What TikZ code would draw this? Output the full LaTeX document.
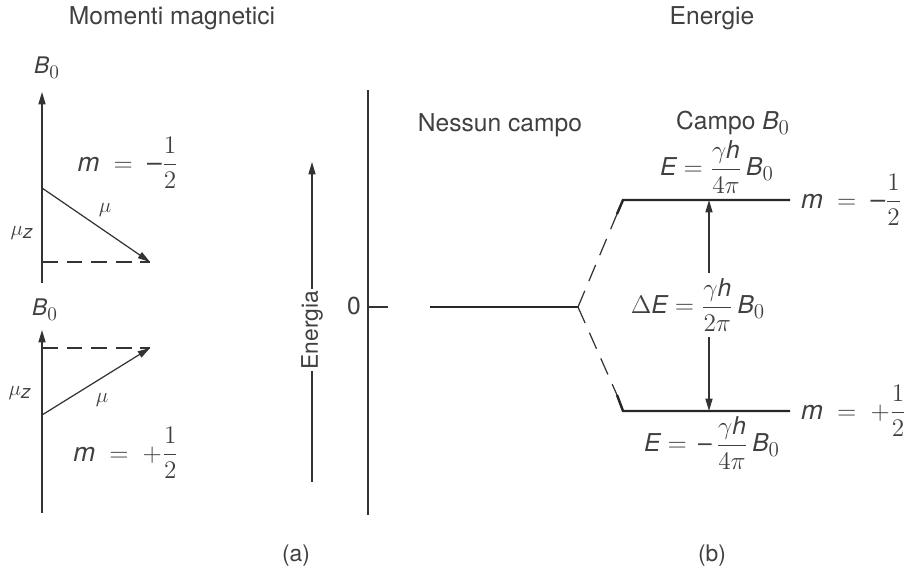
\documentclass[tikz,border=0pt]{standalone}
\usepackage{amsmath}
\usepackage{fontspec}
\setmainfont{TeX Gyre Heros}
\usepackage[italic]{mathastext}
\usetikzlibrary{arrows.meta}

\begin{document}
\begin{tikzpicture}[
		x=0.02cm,
		y=-0.02cm,
		every node/.style={text=black!75, font=\fontsize{13}{15}\selectfont},
		title/.style={font=\fontsize{14}{16}\selectfont},
		mlab/.style={font=\fontsize{15}{17}\selectfont},
		elab/.style={font=\fontsize{14}{16}\selectfont},
		axis/.style={draw=black!80, line width=0.7pt},
		vec/.style={axis, -{Triangle[length=7pt,width=4pt]}},
		proj/.style={draw=black!80, line width=0.7pt, dash pattern=on 9pt off 5pt},
		level/.style={draw=black!85, line width=1.4pt, line join=miter},
		split/.style={draw=black!80, line width=0.7pt, dash pattern=on 10pt off 6pt}
	]
	\useasboundingbox (0,0) rectangle (916,580);

	% Titles
	\node[title] (tmom) at (172,18) {Momenti magnetici};
	\node[title] (tene) at (712,18) {Energie};

	% Upper moment, m = -1/2
	\coordinate (axA-bot) at (42,283);
	\coordinate (axA-top) at (42,92);
	\coordinate (muA-o) at (42,188);
	\coordinate (muA-z) at (42,262);
	\coordinate (muA-tip) at (150,262);
	\draw[vec] (axA-bot) -- (axA-top);
	\draw[proj] (muA-z) -- (muA-tip);
	\draw[vec] (muA-o) -- (muA-tip);
	\node (B0a) at (47,68) {$B_0$};
	\node (muA) at (105,210) {$\mu$};
	\node (muzA) at (22,233) {$\mu_z$};
	\node[mlab] (mA) at (128,163) {$m\;=\;-\displaystyle\frac{1}{2}$};

	% Lower moment, m = +1/2
	\coordinate (axB-bot) at (42,513);
	\coordinate (axB-top) at (42,330);
	\coordinate (muB-o) at (42,415);
	\coordinate (muB-z) at (42,348);
	\coordinate (muB-tip) at (150,348);
	\draw[vec] (axB-bot) -- (axB-top);
	\draw[proj] (muB-z) -- (muB-tip);
	\draw[vec] (muB-o) -- (muB-tip);
	\node (B0b) at (45,310) {$B_0$};
	\node (muB) at (102,400) {$\mu$};
	\node (muzB) at (20,393) {$\mu_z$};
	\node[mlab] (mB) at (126,453) {$m\;=\;+\displaystyle\frac{1}{2}$};

	% Energy axis
	\coordinate (en-bot) at (312,482);
	\coordinate (en-top) at (312,162);
	\node[rotate=90, fill=white, inner sep=1pt] (energia) at (312,330) {Energia};
	\draw[axis] (en-bot) -- (energia.west);
	\draw[vec] (energia.east) -- (en-top);

	% Zero line
	\coordinate (ax0-top) at (368,90);
	\coordinate (ax0-bot) at (368,515);
	\coordinate (tick-a) at (368,307);
	\coordinate (tick-b) at (388,307);
	\draw[axis] (ax0-top) -- (ax0-bot);
	\draw[axis] (tick-a) -- (tick-b);
	\node[title] (zero) at (354,306) {0};
	\node[title] (nocampo) at (500,125) {Nessun campo};

	% Levels
	\coordinate (lvl0) at (430,307);
	\coordinate (split) at (578,307);
	\draw[level] (lvl0) -- (split);
	\foreach \nm/\y/\ky/\sg in {up/200/214/-, lo/411/395/+} {
			\coordinate (\nm-knee) at (617,\ky);
			\coordinate (\nm-corner) at (623,\y);
			\coordinate (\nm-end) at (790,\y);
			\draw[split] (split) -- (\nm-knee);
			\draw[level] (\nm-knee) -- (\nm-corner) -- (\nm-end);
			\node[mlab, anchor=west] (m-\nm) at (795,\y) {$m\;=\;\sg\displaystyle\frac{1}{2}$};
		}

	% Level energies
	\node[title] (campo) at (733,123) {Campo $B_0$};
	\node[elab] (Eup) at (717,167) {$E = \displaystyle\frac{\gamma h}{4\pi}\,B_0$};
	\node[elab] (Elo) at (712,443) {$E = \,-\,\displaystyle\frac{\gamma h}{4\pi}\,B_0$};
	\node[elab] (dE) at (698,305) {$\Delta E = \displaystyle\frac{\gamma h}{2\pi}\,B_0$};
	\coordinate (dE-top) at (709,200);
	\coordinate (dE-bot) at (709,411);
	\draw[vec] (dE-top |- dE.north) -- (dE-top);
	\draw[vec] (dE-bot |- dE.south) -- (dE-bot);

	% Panel labels
	\node (pa) at (296,556) {(a)};
	\node (pb) at (712,556) {(b)};

\end{tikzpicture}
\end{document}
